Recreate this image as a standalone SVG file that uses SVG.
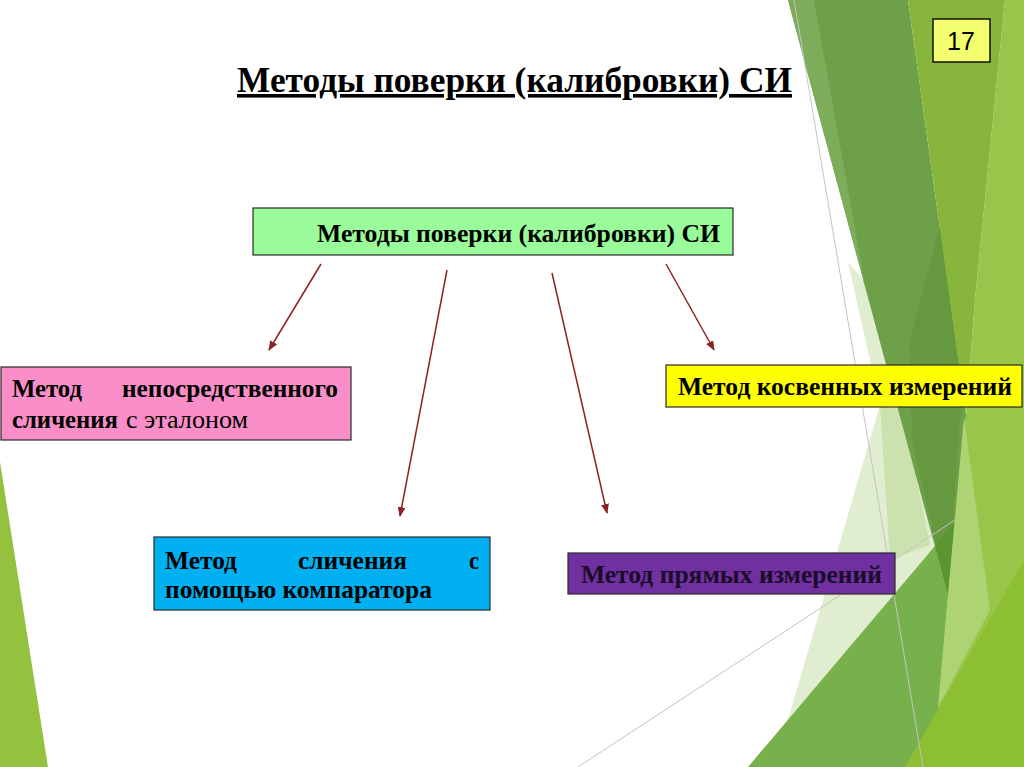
<svg xmlns="http://www.w3.org/2000/svg" width="1024" height="767" viewBox="0 0 1024 767">
<defs>
<style>
.t{font-family:"Liberation Serif","Times New Roman",serif;font-weight:bold;font-size:26px;fill:#000}
.r{font-weight:normal}
.box{stroke:#2a2a2a;stroke-width:1.2}
.con{stroke:#8E2222;stroke-width:1.5;fill:none;marker-end:url(#ah)}
.gl{stroke:#c4c4c4;stroke-width:1;fill:none}
</style>
<marker id="ah" markerUnits="userSpaceOnUse" markerWidth="10" markerHeight="8" refX="9" refY="4" orient="auto">
<path d="M0,0 L10,4 L0,8 z" fill="#8E2222"/>
</marker>
</defs>
<rect x="0" y="0" width="1024" height="767" fill="#ffffff"/>
<g id="background">
<polygon points="0,462 48,767 0,767" fill="#94C23E"/>
<polygon points="848,262 880,300 1000,767 770,767 790,713 880,405" fill="#E0EDD0"/>
<polygon points="880,405 903,410 930,545 890,560" fill="#CCE2AE"/>
<polygon points="1005,0 1024,0 1024,767 905,767 948,595 966,415 975,300" fill="#98C64B"/>
<polygon points="748,767 935,546 948,595 938,710 930,767" fill="#78B14B"/>
<polygon points="788,0 908,0 966,415 948,595" fill="#6E9F49"/>
<polygon points="788,0 814,0 866,290" fill="#7DAD5A"/>
<polygon points="940,225 962,385 948,595 912,440 910,340" fill="#66983F"/>
<polygon points="935,546 955,522 948,595" fill="#5A9532"/>
<polygon points="908,0 1005,0 975,300 966,415" fill="#88B63D"/>
<polygon points="964,417 990,610 938,707 948,595" fill="#AED373"/>
<polygon points="905,767 1024,560 1024,767" fill="#8DBF32"/>
<line class="gl" x1="794" y1="0" x2="923" y2="767"/>
<line class="gl" x1="578" y1="767" x2="955" y2="520"/>
</g>
<g id="page-number">
<rect x="933" y="19" width="57" height="43" fill="#F3FF70" stroke="#111" stroke-width="1.5"/>
<text x="961" y="50" text-anchor="middle" font-family="Liberation Sans, Arial, sans-serif" font-size="25" fill="#000">17</text>
</g>
<g id="title">
<text class="t" x="237" y="92" text-decoration="underline" textLength="555" lengthAdjust="spacingAndGlyphs" style="font-size:36px">Методы поверки (калибровки) СИ</text>
</g>
<g id="connectors">
<line class="con" x1="321" y1="264" x2="269" y2="350"/>
<line class="con" x1="447" y1="270" x2="400" y2="516"/>
<line class="con" x1="552" y1="273" x2="607" y2="513"/>
<line class="con" x1="666" y1="264" x2="714" y2="350"/>
</g>
<g id="root">
<rect class="box" x="253" y="208" width="480" height="47" fill="#99FB99"/>
<text class="t" x="317" y="242" textLength="403" lengthAdjust="spacingAndGlyphs">Методы поверки (калибровки) СИ</text>
</g>
<g id="direct-comparison">
<rect class="box" x="1" y="367" width="350" height="73" fill="#FA8EC8"/>
<text class="t"><tspan x="12" y="397" textLength="70" lengthAdjust="spacingAndGlyphs">Метод</tspan> <tspan x="122" y="397" textLength="216" lengthAdjust="spacingAndGlyphs">непосредственного</tspan> <tspan x="12" y="428" textLength="106" lengthAdjust="spacingAndGlyphs">сличения</tspan> <tspan class="r" x="126" y="428" textLength="122" lengthAdjust="spacingAndGlyphs">с эталоном</tspan></text>
</g>
<g id="indirect">
<rect class="box" x="666" y="365" width="356" height="42" fill="#FFFF00"/>
<text class="t" x="678" y="395" textLength="334" lengthAdjust="spacingAndGlyphs">Метод косвенных измерений</text>
</g>
<g id="comparator">
<rect class="box" x="154" y="537" width="336" height="73" fill="#00B0F0"/>
<text class="t"><tspan x="165" y="569" textLength="72" lengthAdjust="spacingAndGlyphs">Метод</tspan> <tspan x="298" y="569" textLength="109" lengthAdjust="spacingAndGlyphs">сличения</tspan> <tspan x="469" y="569" textLength="10" lengthAdjust="spacingAndGlyphs">с</tspan> <tspan x="165" y="598" textLength="267" lengthAdjust="spacingAndGlyphs">помощью компаратора</tspan></text>
</g>
<g id="direct-measure">
<rect class="box" x="568" y="553" width="327" height="41" fill="#7030A0"/>
<text class="t" x="581" y="583" textLength="301" lengthAdjust="spacingAndGlyphs" style="fill:#1B0C2A">Метод прямых измерений</text>
</g>
</svg>
